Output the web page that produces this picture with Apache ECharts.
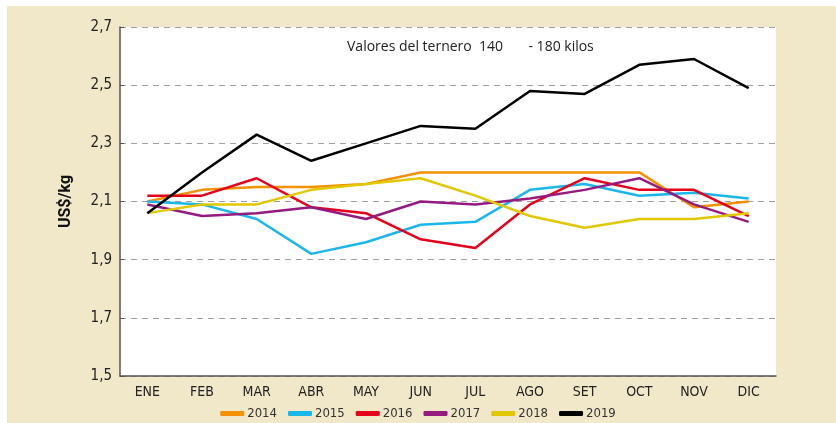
<!DOCTYPE html>
<html>
<head>
<meta charset="utf-8">
<script src="https://cdn.jsdelivr.net/npm/echarts@6/dist/echarts.min.js"></script>
<style>
html, body { margin: 0; padding: 0; background: #fff; }
#chart { width: 836px; height: 423px; }
</style>
</head>
<body>
<div id="chart"></div>
<script>
// meses
var meses = ['ENE', 'FEB', 'MAR', 'ABR', 'MAY', 'JUN', 'JUL', 'AGO', 'SET', 'OCT', 'NOV', 'DIC'];

// valores US$/kg por año
var v2014 = [2.10, 2.14, 2.15, 2.15, 2.16, 2.20, 2.20, 2.20, 2.20, 2.20, 2.08, 2.10];
var v2015 = [2.10, 2.09, 2.04, 1.92, 1.96, 2.02, 2.03, 2.14, 2.16, 2.12, 2.13, 2.11];
var v2016 = [2.12, 2.12, 2.18, 2.08, 2.06, 1.97, 1.94, 2.09, 2.18, 2.14, 2.14, 2.05];
var v2017 = [2.09, 2.05, 2.06, 2.08, 2.04, 2.10, 2.09, 2.11, 2.14, 2.18, 2.09, 2.03];
var v2018 = [2.06, 2.09, 2.09, 2.14, 2.16, 2.18, 2.12, 2.05, 2.01, 2.04, 2.04, 2.06];
var v2019 = [2.06, 2.20, 2.33, 2.24, 2.30, 2.36, 2.35, 2.48, 2.47, 2.57, 2.59, 2.49];

var anios = ['2014', '2015', '2016', '2017', '2018', '2019'];
var valores = [v2014, v2015, v2016, v2017, v2018, v2019];
var colores = ['#f39200', '#1bb6ea', '#e5001b', '#951b81', '#e2c800', '#000000'];

var fuente = "'Liberation Sans Narrow', 'DejaVu Sans Condensed', sans-serif";

var chart = echarts.init(document.getElementById('chart'));

var series = anios.map(function (a, i) {
	return {
		name: a,
		type: 'line',
		data: valores[i],
		symbol: 'none',
		color: colores[i],
		lineStyle: { width: 2.5, color: colores[i] }
	};
});

var option = {
	backgroundColor: '#ffffff',
	animation: false,
	graphic: [
		{
			type: 'rect',
			left: 7, top: 6,
			shape: { width: 829, height: 417 },
			style: { fill: '#f1e7c9' },
			z: -10
		},
		{
			type: 'text',
			left: 347, top: 40,
			style: {
				text: 'Valores del ternero  140       - 180 kilos',
				font: "14px 'Open Sans', sans-serif",
				fill: '#222'
			},
			z: 10
		}
	],
	grid: {
		left: 120, right: 60, top: 27, bottom: 47,
		show: true, backgroundColor: '#ffffff', borderWidth: 0
	},
	legend: {
		bottom: -2,
		left: 'center',
		icon: 'roundRect',
		itemWidth: 24,
		itemHeight: 5,
		itemGap: 11,
		textStyle: { fontFamily: fuente, fontSize: 13, color: '#333', padding: [0, 0, 0, -2] },
		data: anios
	},
	xAxis: {
		type: 'category',
		data: meses,
		boundaryGap: true,
		axisLine: { lineStyle: { color: '#555', width: 1.5 } },
		axisTick: { show: false },
		axisLabel: { fontFamily: fuente, fontSize: 14, color: '#222', margin: 9 }
	},
	yAxis: {
		type: 'value',
		min: 1.5,
		max: 2.7,
		interval: 0.2,
		name: 'US$/kg',
		nameLocation: 'middle',
		nameGap: 46,
		nameTextStyle: { fontFamily: "'Roboto', 'DejaVu Sans', sans-serif", fontSize: 16, fontWeight: 'bold', color: '#111' },
		axisLine: { show: true, lineStyle: { color: '#555', width: 1.5 } },
		axisTick: { show: true, inside: true, length: 4, lineStyle: { color: '#555' } },
		axisLabel: {
			fontFamily: fuente, fontSize: 15, color: '#222', margin: 8,
			formatter: function (v) { return v.toFixed(1).replace('.', ','); }
		},
		splitLine: { lineStyle: { color: '#a0a0a0', type: [6, 5], width: 1.2 } }
	},
	series: series
};

chart.setOption(option);

window.addEventListener('resize', function () {
	chart.resize();
});
</script>
</body>
</html>
